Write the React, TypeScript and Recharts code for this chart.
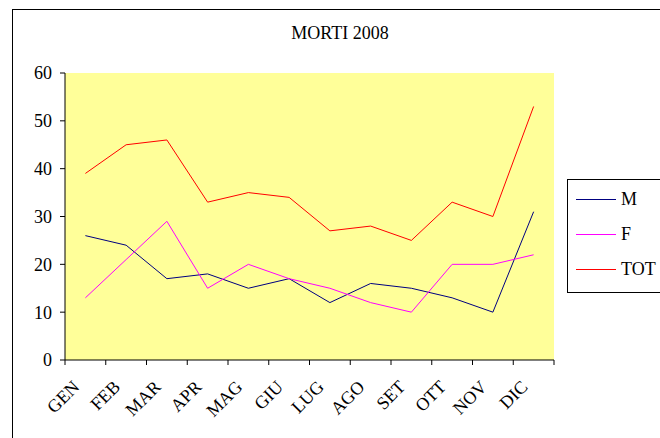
import { LineChart, Line, XAxis, YAxis, CartesianGrid } from "recharts";

const months = ["GEN", "FEB", "MAR", "APR", "MAG", "GIU", "LUG", "AGO", "SET", "OTT", "NOV", "DIC"];
const maschi = [26, 24, 17, 18, 15, 17, 12, 16, 15, 13, 10, 31];
const femmine = [13, 21, 29, 15, 20, 17, 15, 12, 10, 20, 20, 22];
const totale = [39, 45, 46, 33, 35, 34, 27, 28, 25, 33, 30, 53];
const yTicks = [0, 10, 20, 30, 40, 50, 60];

const series = [
  { key: "M", color: "#000080" },
  { key: "F", color: "#FF00FF" },
  { key: "TOT", color: "#FF0000" },
];

const data = months.map((m, i) => ({
  mese: m,
  pos: i + 0.5,
  M: maschi[i],
  F: femmine[i],
  TOT: totale[i],
}));

// tick marks sit between the months, like Excel does
const boundaries = months.map((_, i) => i).concat(months.length);

const FONT = "Liberation Serif, Times New Roman, serif";
const W = 660;
const H = 438;
const M_LEFT = 65;
const M_RIGHT = 106;
const band = (W - M_LEFT - M_RIGHT) / months.length;

function MonthTick(props: any) {
  const { x, y, payload } = props;
  const label = months[payload.value];
  if (!label) return null;
  const ax = x + band / 2 - 5;
  const ay = y + 21;
  return (
    <text
      x={ax}
      y={ay}
      transform={`rotate(-45 ${ax} ${ay})`}
      textAnchor="end"
      fontFamily={FONT}
      fontSize={18}
      fill="#000"
    >
      {label}
    </text>
  );
}

function LegendBox() {
  return (
    <div
      style={{
        position: "absolute",
        left: 567,
        top: 179,
        width: 140,
        height: 112,
        border: "1px solid #000",
        background: "#fff",
        fontFamily: FONT,
        fontSize: 18,
      }}
    >
      {series.map((s, i) => (
        <div
          key={s.key}
          style={{ position: "absolute", left: 8, top: 19 + i * 35 - 11, height: 22, display: "flex", alignItems: "center" }}
        >
          <span style={{ width: 40, height: 0, borderTop: `1px solid ${s.color}`, display: "inline-block" }} />
          <span style={{ marginLeft: 5, color: "#000" }}>{s.key}</span>
        </div>
      ))}
    </div>
  );
}

export default function App() {
  return (
    <div style={{ position: "absolute", left: 0, top: 0, width: W, height: H, overflow: "hidden", background: "#fff" }}>
      <div
        style={{
          position: "absolute",
          left: 12,
          top: 9,
          width: 720,
          height: 520,
          border: "1px solid #000",
        }}
      />
      <div
        style={{
          position: "absolute",
          left: 0,
          width: 680,
          top: 23,
          textAlign: "center",
          fontFamily: FONT,
          fontSize: 18,
          lineHeight: "20px",
        }}
      >
        MORTI 2008
      </div>
      <div style={{ position: "absolute", left: 0, top: 0 }}>
        <LineChart width={W} height={H} data={data} margin={{ top: 73, right: M_RIGHT, bottom: 0, left: 0 }}>
          <CartesianGrid fill="#FFFF99" horizontal={false} vertical={false} />
          <XAxis
            dataKey="pos"
            type="number"
            domain={[0, months.length]}
            ticks={boundaries}
            interval={0}
            height={78}
            tickSize={5}
            tickMargin={2}
            axisLine={{ stroke: "#000" }}
            tickLine={{ stroke: "#000" }}
            tick={<MonthTick />}
          />
          <XAxis
            xAxisId="top"
            orientation="top"
            type="number"
            domain={[0, months.length]}
            height={0}
            tick={false}
            tickLine={false}
            axisLine={{ stroke: "#808080" }}
          />
          <YAxis
            domain={[0, 60]}
            ticks={yTicks}
            interval={0}
            width={M_LEFT}
            tickSize={5}
            tickMargin={8}
            axisLine={{ stroke: "#000" }}
            tickLine={{ stroke: "#000" }}
            tick={{ fill: "#000", fontFamily: FONT, fontSize: 18 }}
          />
          <YAxis
            yAxisId="right"
            orientation="right"
            domain={[0, 60]}
            width={0}
            tick={false}
            tickLine={false}
            axisLine={{ stroke: "#808080" }}
          />
          {series.map((s) => (
            <Line
              key={s.key}
              dataKey={s.key}
              stroke={s.color}
              strokeWidth={1}
              dot={false}
              activeDot={false}
              isAnimationActive={false}
            />
          ))}
        </LineChart>
      </div>
      <LegendBox />
    </div>
  );
}
